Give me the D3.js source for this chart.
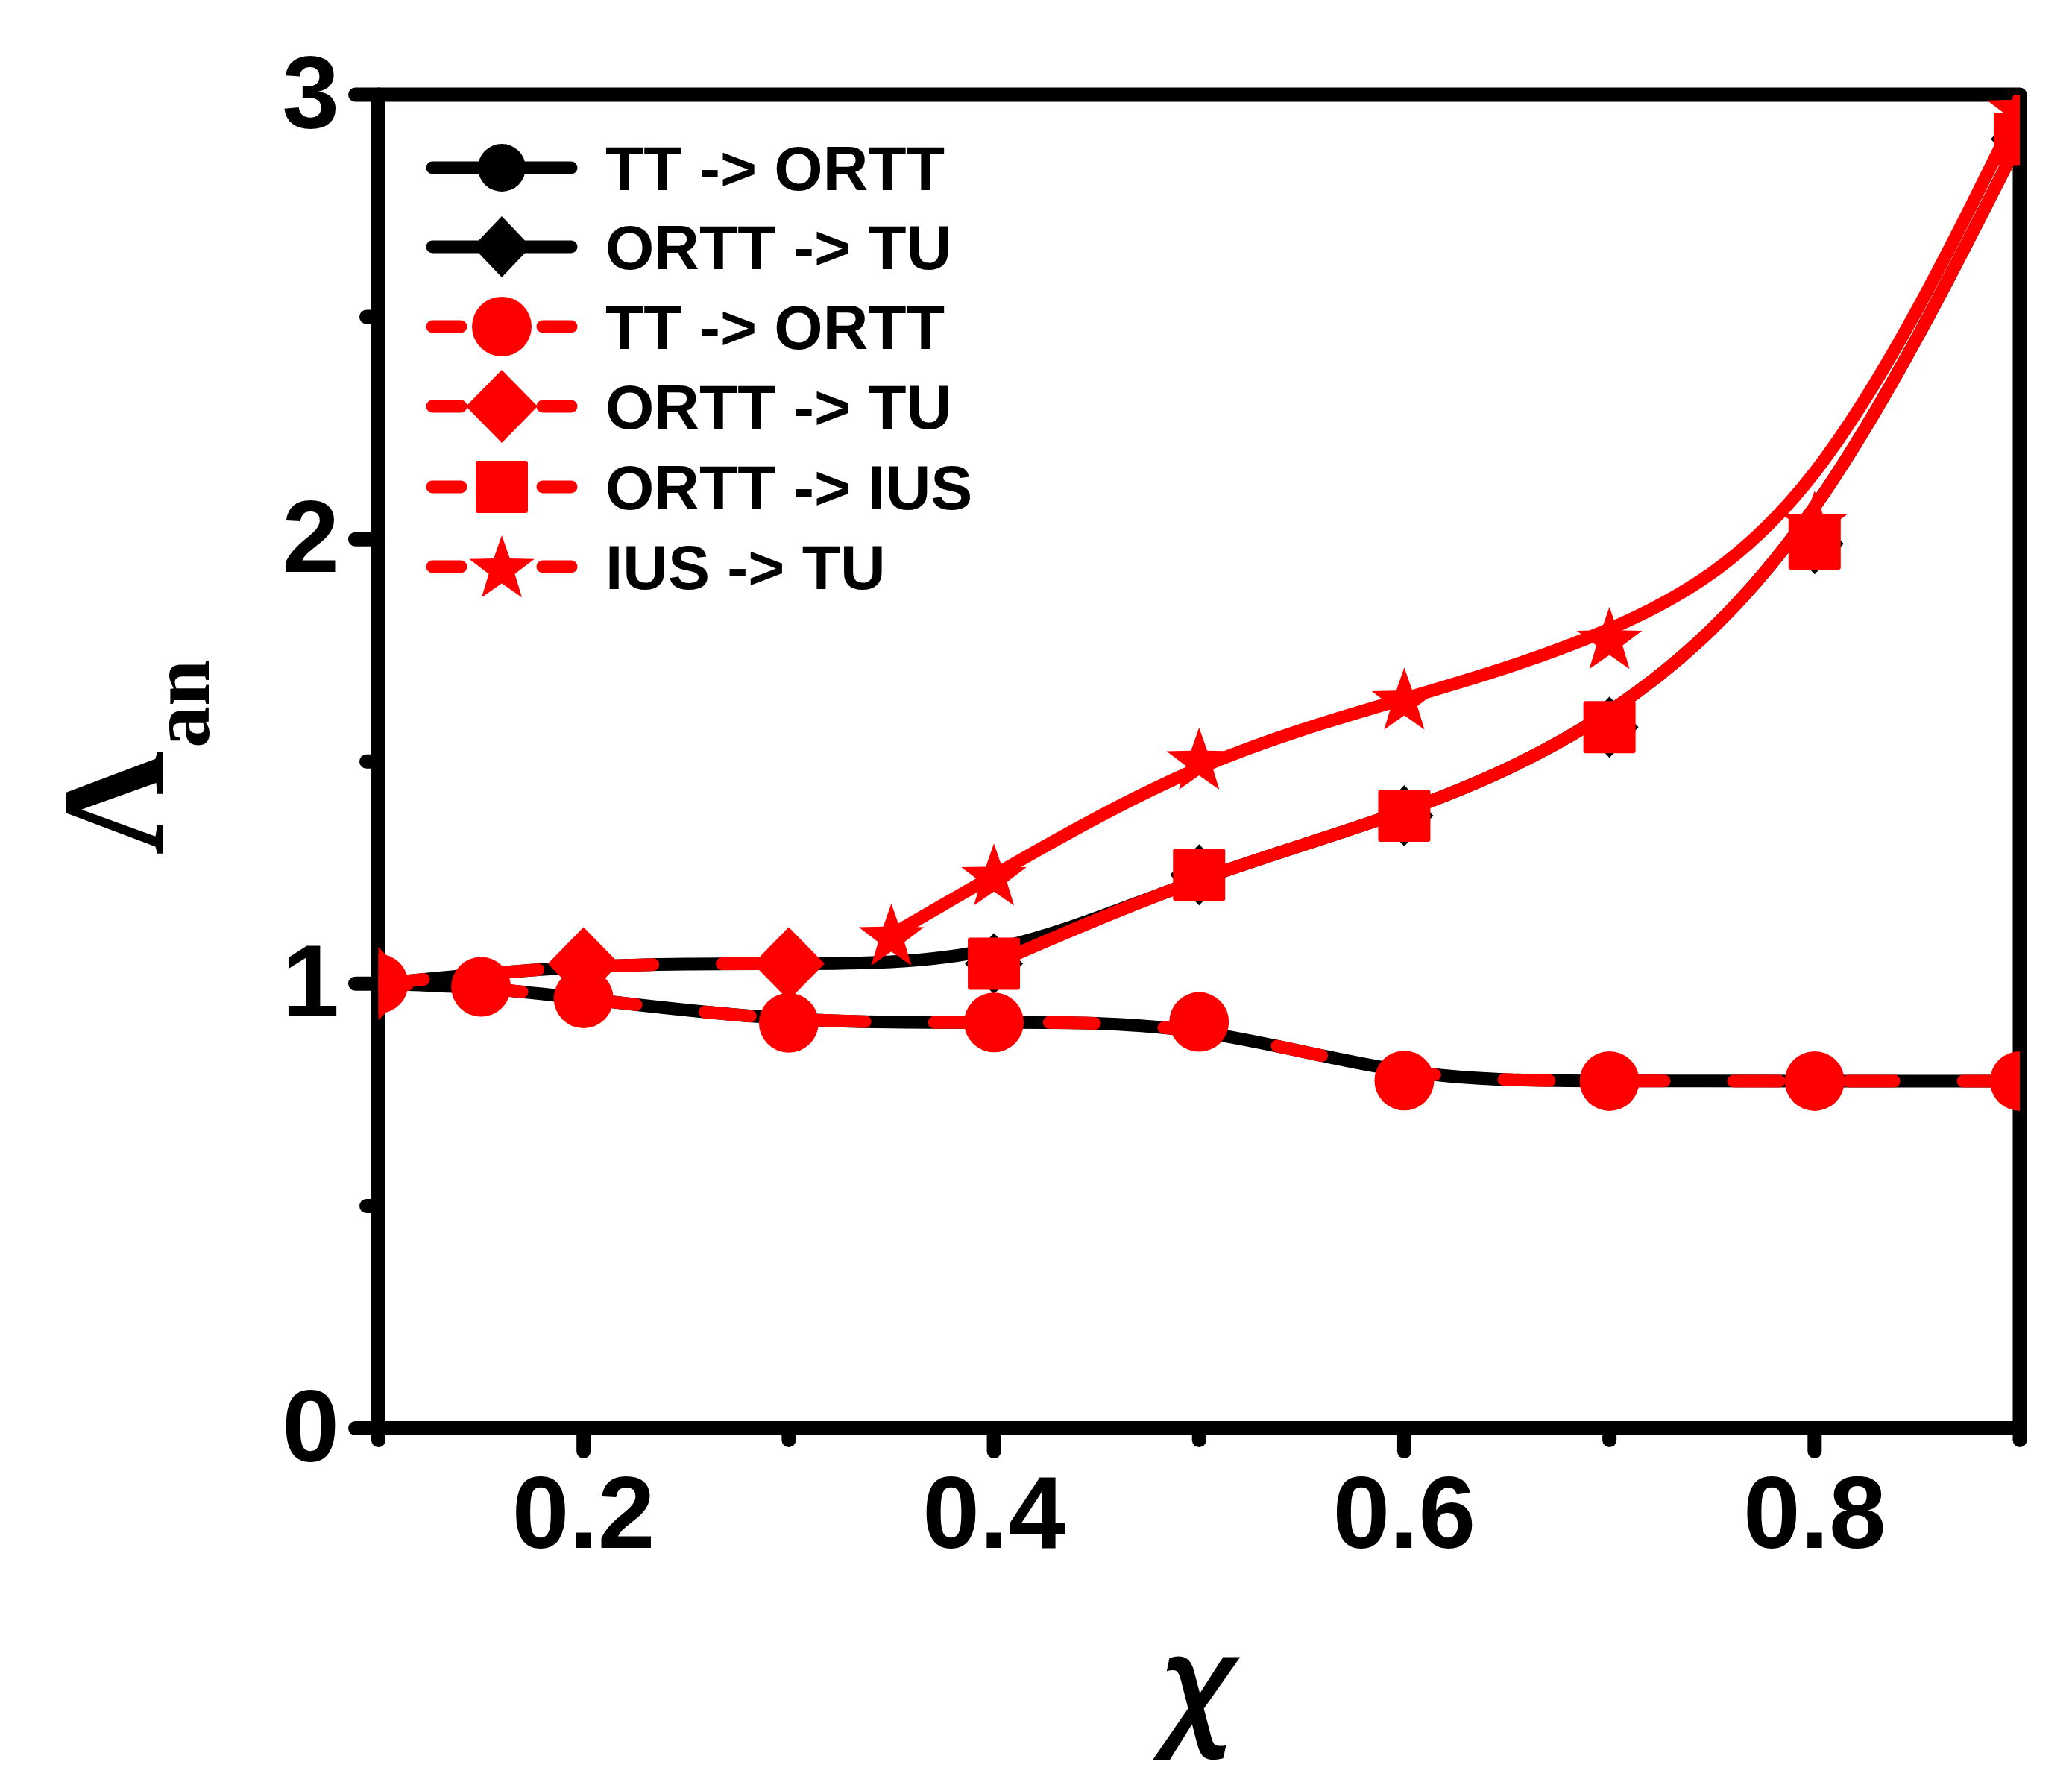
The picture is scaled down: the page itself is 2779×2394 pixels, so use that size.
<!DOCTYPE html>
<html>
<head>
<meta charset="utf-8">
<script src="https://cdn.jsdelivr.net/npm/d3@7"></script>
<style>
  html, body { margin: 0; padding: 0; background: #fff; }
  svg { display: block; }
</style>
</head>
<body>
<script>
// ---------------- data ----------------
const xTick = [0.2, 0.4, 0.6, 0.8];
const xTickLabels = ["0.2", "0.4", "0.6", "0.8"];
const xMinor = [0.1, 0.3, 0.5, 0.7, 0.9];
const yTick = [0, 1, 2, 3];
const yTickLabels = ["0", "1", "2", "3"];
const yMinor = [0.5, 1.5, 2.5];

// black TT -> ORTT
const xTTORTT_k = [0.1, 0.15, 0.2, 0.3, 0.4, 0.5, 0.6, 0.7, 0.8, 0.9];
const yTTORTT_k = [1.0, 0.993, 0.967, 0.912, 0.913, 0.914, 0.782, 0.781, 0.781, 0.781];
// black ORTT -> TU
const xORTTTU_k = [0.1, 0.2, 0.3, 0.4, 0.5, 0.6, 0.7, 0.8, 0.9];
const yORTTTU_k = [1.0, 1.045, 1.045, 1.045, 1.245, 1.378, 1.577, 1.99, 2.9];
// red TT -> ORTT
const xTTORTT_r = [0.1, 0.15, 0.2, 0.3, 0.4, 0.5, 0.6, 0.7, 0.8, 0.9];
const yTTORTT_r = [1.0, 0.993, 0.967, 0.912, 0.913, 0.914, 0.782, 0.781, 0.781, 0.781];
// red ORTT -> TU
const xORTTTU_r = [0.1, 0.2, 0.3];
const yORTTTU_r = [1.0, 1.045, 1.045];
// red ORTT -> IUS
const xORTTIUS = [0.4, 0.5, 0.6, 0.7, 0.8, 0.9];
const yORTTIUS = [1.045, 1.245, 1.378, 1.577, 1.99, 2.9];
// red IUS -> TU
const xIUSTU = [0.35, 0.4, 0.5, 0.6, 0.7, 0.8, 0.9];
const yIUSTU = [1.11, 1.245, 1.506, 1.641, 1.777, 2.039, 2.97];

const legendLabels = ["TT -> ORTT", "ORTT -> TU", "TT -> ORTT", "ORTT -> TU", "ORTT -> IUS", "IUS -> TU"];

// ---------------- layout ----------------
const W = 2779, H = 2394;
const L = 507.5, R = 2709, T = 127, B = 1915.5;
const AXW = 19;
const BLACK = "#000", RED = "#ff0000";

const x = d3.scaleLinear().domain([0.1, 0.9]).range([L, R]);
const y = d3.scaleLinear().domain([0, 3]).range([B, T]);

const svg = d3.select("body").append("svg")
  .attr("width", W).attr("height", H)
  .attr("viewBox", `0 0 ${W} ${H}`);

svg.append("rect").attr("width", W).attr("height", H).attr("fill", "#fff");

svg.append("defs").append("clipPath").attr("id", "plotclip")
  .append("rect").attr("x", L).attr("y", T).attr("width", R - L).attr("height", B - T);

// ---------------- ticks ----------------
const tickG = svg.append("g").attr("stroke", BLACK).attr("stroke-width", AXW).attr("stroke-linecap", "round");
xTick.forEach(v => tickG.append("line").attr("x1", x(v)).attr("x2", x(v)).attr("y1", B).attr("y2", B + 31));
xMinor.forEach(v => tickG.append("line").attr("x1", x(v)).attr("x2", x(v)).attr("y1", B).attr("y2", B + 16));
yTick.forEach(v => tickG.append("line").attr("y1", y(v)).attr("y2", y(v)).attr("x1", L).attr("x2", L - 31));
yMinor.forEach(v => tickG.append("line").attr("y1", y(v)).attr("y2", y(v)).attr("x1", L).attr("x2", L - 16));

// frame
svg.append("rect").attr("x", L).attr("y", T).attr("width", R - L).attr("height", B - T)
  .attr("fill", "none").attr("stroke", BLACK).attr("stroke-width", AXW).attr("stroke-linejoin", "round");

// tick labels
const tickFont = "'Liberation Sans', Arial, sans-serif";
svg.append("g").selectAll("text").data(xTick).join("text")
  .attr("x", d => x(d)).attr("y", B + 160)
  .attr("text-anchor", "middle")
  .attr("font-family", tickFont).attr("font-weight", "bold").attr("font-size", 138)
  .text((d, i) => xTickLabels[i]);
svg.append("g").selectAll("text").data(yTick).join("text")
  .attr("x", 455).attr("y", d => y(d) + 44)
  .attr("text-anchor", "end")
  .attr("font-family", tickFont).attr("font-weight", "bold").attr("font-size", 138)
  .text((d, i) => yTickLabels[i]);

// axis titles
const yTitle = svg.append("text")
  .attr("transform", "translate(218,1146) rotate(-90)")
  .attr("font-family", "'Liberation Serif', 'Times New Roman', serif").attr("font-weight", "bold");
yTitle.append("tspan").attr("font-size", 194).text("Λ");
yTitle.append("tspan").attr("font-size", 112).attr("dy", 62).attr("dx", 4).text("an");

svg.append("text")
  .attr("x", 1607).attr("y", 2318)
  .attr("text-anchor", "middle")
  .attr("font-family", "'Noto Sans', sans-serif")
  .attr("font-style", "italic").attr("font-weight", "600").attr("font-size", 175)
  .text("χ");

// ---------------- markers ----------------
function starPath(Ro, ratio) {
  const ri = Ro * ratio;
  let p = [];
  for (let i = 0; i < 10; i++) {
    const a = -Math.PI / 2 + i * Math.PI / 5;
    const r = i % 2 === 0 ? Ro : ri;
    p.push([r * Math.cos(a), r * Math.sin(a)]);
  }
  return "M" + p.map(q => q[0].toFixed(2) + "," + q[1].toFixed(2)).join("L") + "Z";
}
function diamondPath(w, h) { return `M0,${-h}L${w},0L0,${h}L${-w},0Z`; }

function drawMarker(g, type, cx, cy, color) {
  if (type === "circleK") g.append("circle").attr("cx", cx).attr("cy", cy).attr("r", 32).attr("fill", color);
  else if (type === "circleR") g.append("circle").attr("cx", cx).attr("cy", cy).attr("r", 40).attr("fill", color);
  else if (type === "diamondK") g.append("path").attr("d", diamondPath(39, 41)).attr("transform", `translate(${cx},${cy})`).attr("fill", color);
  else if (type === "diamondR") g.append("path").attr("d", diamondPath(48, 49)).attr("transform", `translate(${cx},${cy})`).attr("fill", color);
  else if (type === "square") g.append("rect").attr("x", cx - 35).attr("y", cy - 35).attr("width", 70).attr("height", 70).attr("rx", 3).attr("fill", color);
  else if (type === "star") g.append("path").attr("d", starPath(46, 0.4)).attr("transform", `translate(${cx},${cy + 4})`).attr("fill", color);
}

const line = d3.line().x(d => x(d[0])).y(d => y(d[1])).curve(d3.curveBasis);

const series = [
  { xs: xTTORTT_k, ys: yTTORTT_k, color: BLACK, dash: null, marker: "circleK" },
  { xs: xORTTTU_k, ys: yORTTTU_k, color: BLACK, dash: null, marker: "diamondK" },
  { xs: xTTORTT_r, ys: yTTORTT_r, color: RED, dash: "61,93", offset: 22, marker: "circleR" },
  { xs: xORTTTU_r, ys: yORTTTU_r, color: RED, dash: "61,93", offset: 0, marker: "diamondR" },
  { xs: xORTTIUS, ys: yORTTIUS, color: RED, dash: null, marker: "square" },
  { xs: xIUSTU, ys: yIUSTU, color: RED, dash: null, marker: "star" }
];

const plotG = svg.append("g").attr("clip-path", "url(#plotclip)");
series.forEach(s => {
  const pts = s.xs.map((v, i) => [v, s.ys[i]]);
  const p = plotG.append("path").attr("d", line(pts))
    .attr("fill", "none").attr("stroke", s.color).attr("stroke-width", 17)
    .attr("stroke-linecap", "round").attr("stroke-linejoin", "round");
  if (s.dash) p.attr("stroke-dasharray", s.dash).attr("stroke-dashoffset", s.offset);
  const mg = plotG.append("g");
  pts.forEach(q => drawMarker(mg, s.marker, x(q[0]), y(q[1]), s.color));
});

// ---------------- legend ----------------
const legY = [225, 331, 438, 545, 653, 760];
const legG = svg.append("g");
series.forEach((s, i) => {
  const cy = legY[i];
  if (s.color === BLACK) {
    legG.append("line").attr("x1", 580).attr("x2", 766).attr("y1", cy).attr("y2", cy)
      .attr("stroke", s.color).attr("stroke-width", 17).attr("stroke-linecap", "round");
  } else {
    legG.append("line").attr("x1", 580).attr("x2", 618).attr("y1", cy).attr("y2", cy)
      .attr("stroke", s.color).attr("stroke-width", 17).attr("stroke-linecap", "round");
    legG.append("line").attr("x1", 728).attr("x2", 766).attr("y1", cy).attr("y2", cy)
      .attr("stroke", s.color).attr("stroke-width", 17).attr("stroke-linecap", "round");
  }
  drawMarker(legG, s.marker, 673, cy, s.color);
  legG.append("text").attr("x", 812).attr("y", cy + 30)
    .attr("font-family", tickFont).attr("font-weight", "bold").attr("font-size", 84)
    .text(legendLabels[i]);
});
</script>
</body>
</html>
